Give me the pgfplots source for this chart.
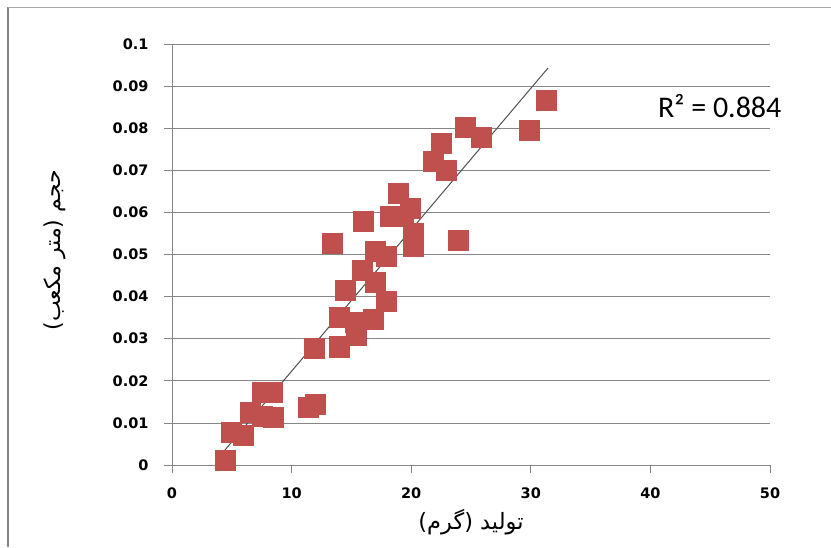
\documentclass[border=0pt]{standalone}
\usepackage{pgfplots}
\pgfplotsset{compat=1.18}
\usepackage{fontspec}
\setmainfont{DejaVu Sans}
\newfontfamily\carlito{Carlito}
\newfontfamily\arabicfont[Script=Arabic]{DejaVu Sans}
\TeXXeTstate=1
\definecolor{excelred}{RGB}{192,80,77}
\definecolor{gridgray}{RGB}{134,134,134}
\definecolor{trendgray}{RGB}{80,80,80}

\begin{document}
\begin{tikzpicture}
\useasboundingbox (0,0) rectangle (831pt,547pt);
% chart area frame (only left and top edges visible)
\draw[gridgray, line width=1.5pt] (8pt,0) -- (8pt,540pt);
\draw[gridgray!70, line width=0.8pt] (8pt,540pt) -- (831pt,540pt);
\begin{axis}[
    at={(172pt,82pt)}, anchor=south west,
    scale only axis,
    width=598pt, height=421pt,
    xmin=0, xmax=50, ymin=0, ymax=0.1,
    xtick={0,10,20,30,40,50},
    ytick={0,0.01,0.02,0.03,0.04,0.05,0.06,0.07,0.08,0.09,0.1},
    scaled y ticks=false,
    yticklabel style={/pgf/number format/fixed, /pgf/number format/precision=2, xshift=-12pt},
    xticklabel style={yshift=-11pt},
    /pgf/number format/assume math mode=true,
    tick label style={font=\bfseries\fontsize{14.5}{16}\selectfont},
    axis x line=bottom, axis y line=left,
    axis line style={-, gridgray, line width=0.8pt},
    tick align=outside, major tick length=8pt,
    tick style={gridgray, line width=0.8pt},
    ymajorgrids, grid style={gridgray, line width=0.8pt},
    clip=false,
    xlabel={\arabicfont\fontsize{22.5}{25}\selectfont\beginR تولید (گرم)\endR},
    ylabel={\arabicfont\fontsize{22}{25}\selectfont\beginR حجم (متر مکعب)\endR},
    xlabel style={at={(axis description cs:0.5,-0.135)}, anchor=center},
    ylabel style={at={(axis description cs:-0.196,0.51)}, anchor=center, rotate=0},
]
% observations
\addplot[only marks, mark=square*, mark size=10pt, color=excelred, mark options={fill=excelred, draw=none}]
coordinates {
(4.43,0.0012) (4.97,0.0078) (5.94,0.0071) (6.52,0.0126) (7.52,0.0172)
(8.39,0.0172) (7.52,0.0115) (8.47,0.0113) (11.4,0.0138) (11.96,0.0145)
(11.87,0.0277) (13.96,0.0281) (13.96,0.0352) (15.3,0.0340) (15.38,0.0309)
(14.46,0.0416) (16.83,0.0347) (17.95,0.0388) (16.97,0.0435) (15.93,0.0463)
(16.97,0.0507) (17.95,0.0495) (13.42,0.0527) (15.95,0.0580) (18.23,0.0590)
(19.3,0.0590) (18.92,0.0645) (19.9,0.0610) (20.18,0.0550) (20.18,0.0519)
(23.89,0.0534) (21.85,0.0722) (22.47,0.0764) (22.9,0.0701) (24.5,0.0802)
(25.84,0.0778) (29.85,0.0796) (31.27,0.0867)
};
% linear trend line
\addplot[trendgray, line width=1pt, no marks] coordinates {(4.2,0.0028) (31.44,0.0943)};
\node[font=\carlito\fontsize{30}{33}\selectfont, anchor=center] at (axis cs:45.8,0.0852) {R² = 0.884};
\end{axis}
\end{tikzpicture}
\end{document}
